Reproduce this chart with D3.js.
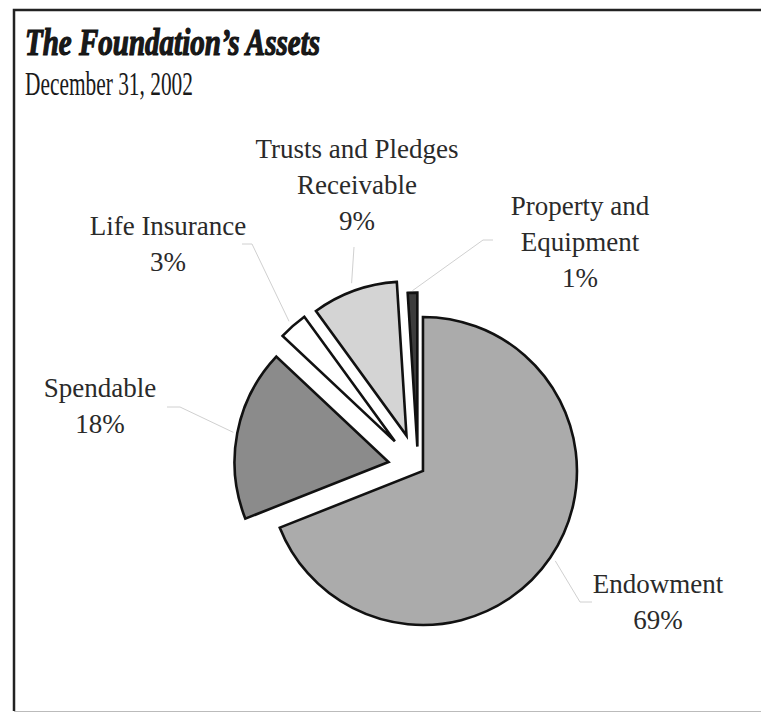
<!DOCTYPE html>
<html lang="en">
<head>
    <meta charset="UTF-8">
    <title>The Foundation's Assets</title>
    <script src="https://d3js.org/d3.v7.min.js"></script>
    <style>
        body { margin: 0; background: #fff; }
        svg text { font-family: "Liberation Serif", "Times New Roman", serif; fill: #1a1a1a; }
    </style>
</head>
<body>
    <script>
// data
const categories = ['Endowment', 'Spendable', 'Life Insurance', 'Trusts and Pledges Receivable', 'Property and Equipment'];
const shares = [69, 18, 3, 9, 1];
const labelLines = [
    ['Endowment', '69%'],
    ['Spendable', '18%'],
    ['Life Insurance', '3%'],
    ['Trusts and Pledges', 'Receivable', '9%'],
    ['Property and', 'Equipment', '1%']
];

// styling / layout
const fills = ['#ababab', '#8b8b8b', '#ffffff', '#d4d4d4', '#3c3c3c'];
const explode = [6, 30, 35, 34, 21];
const labelAnchor = [[658, 593], [100, 397], [168, 235], [357, 158], [580, 215]];
const leaderEnd = [[[580, 602], [592, 602]], [[180, 407], [167, 407]], [[252, 244], [242, 244]], [[354, 247]], [[483, 240], [493, 240]]];
const leaderGap = [6, 4, 6, 8, 2];
const lineH = 36;

const width = 761, height = 712;
const cx = 418, cy = 467.6, radius = 154;

const svg = d3.select('body').append('svg')
    .attr('width', width)
    .attr('height', height);

// frame (open on the right, as in the scan)
svg.append('path')
    .attr('d', `M${width},10 H14 V711`)
    .attr('fill', 'none')
    .attr('stroke', '#222')
    .attr('stroke-width', 2.5);
svg.append('line')
    .attr('x1', 14).attr('x2', width)
    .attr('y1', 711.5).attr('y2', 711.5)
    .attr('stroke', '#bbb')
    .attr('stroke-width', 1);

svg.append('text')
    .attr('x', 25).attr('y', 55)
    .attr('font-size', 37)
    .attr('font-weight', 900)
    .attr('font-style', 'italic')
    .attr('stroke', '#111')
    .attr('stroke-width', 1.2)
    .attr('textLength', 295)
    .attr('lengthAdjust', 'spacingAndGlyphs')
    .text('The Foundation\u2019s Assets');

svg.append('text')
    .attr('x', 25).attr('y', 95)
    .attr('font-size', 34)
    .attr('textLength', 168)
    .attr('lengthAdjust', 'spacingAndGlyphs')
    .text('December 31, 2002');

const pie = d3.pie().sort(null).value(d => d);
const arcs = pie(shares);
const arc = d3.arc().innerRadius(0).outerRadius(radius);

const mid = d => (d.startAngle + d.endAngle) / 2;
const offset = (d, i) => [Math.sin(mid(d)) * explode[i], -Math.cos(mid(d)) * explode[i]];

const pieG = svg.append('g').attr('transform', `translate(${cx},${cy})`);

// leader lines
const leader = d3.line();
arcs.forEach((d, i) => {
    const [ox, oy] = offset(d, i);
    const r = radius + leaderGap[i];
    const start = [cx + ox + Math.sin(mid(d)) * r, cy + oy - Math.cos(mid(d)) * r];
    svg.append('path')
        .attr('d', leader([start, ...leaderEnd[i]]))
        .attr('fill', 'none')
        .attr('stroke', '#d0d0d0')
        .attr('stroke-width', 1);
});

pieG.selectAll('path.slice')
    .data(arcs)
    .enter()
    .append('path')
    .attr('class', 'slice')
    .attr('transform', (d, i) => `translate(${offset(d, i)})`)
    .attr('d', arc)
    .attr('fill', (d, i) => fills[i])
    .attr('stroke', '#111')
    .attr('stroke-width', 2.6)
    .attr('stroke-linejoin', 'miter');

// labels
labelLines.forEach((lines, i) => {
    const t = svg.append('text')
        .attr('text-anchor', 'middle')
        .attr('font-size', 27)
        .style('fill', '#2a2a2a');
    lines.forEach((s, j) => {
        t.append('tspan')
            .attr('x', labelAnchor[i][0])
            .attr('y', labelAnchor[i][1] + j * lineH)
            .text(s);
    });
});
    </script>
</body>
</html>
